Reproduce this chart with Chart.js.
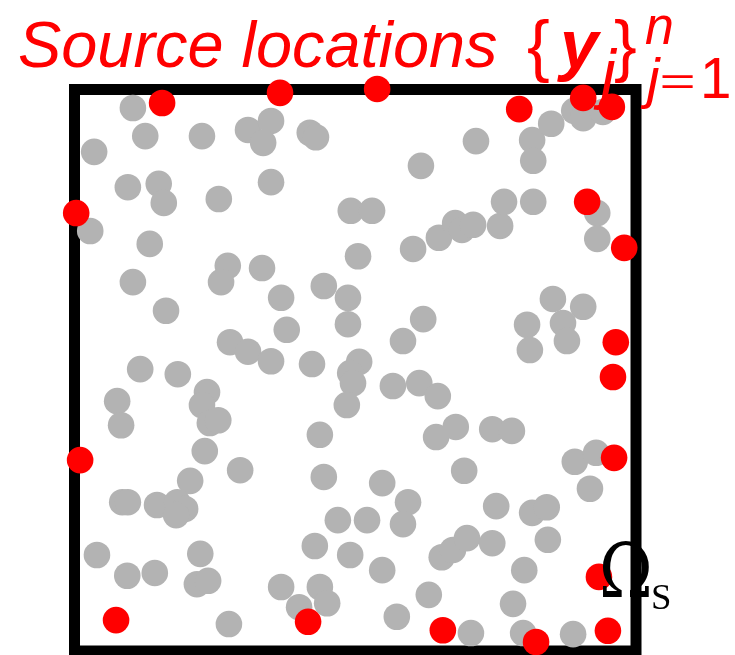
<!DOCTYPE html>
<html>
<head>
<meta charset="utf-8">
<script src="https://cdn.jsdelivr.net/npm/chart.js@4/dist/chart.umd.min.js"></script>
<style>
  html, body { margin: 0; padding: 0; background: #fff; }
  #wrap { width: 735px; height: 655px; position: relative; }
</style>
</head>
<body>
<div id="wrap"><canvas id="c" width="735" height="655"></canvas></div>
<script>
// Source locations y_j (red), on the unit square
const sourceX = [0.156, 0.366, 0.539, 0.792, 0.906, 0.957, 0.003, 0.913, 0.979, 0.964,
                 0.959, 0.010, 0.961, 0.934, 0.074, 0.416, 0.656, 0.822, 0.950];
const sourceY = [0.976, 0.994, 1.001, 0.965, 0.985, 0.969, 0.780, 0.800, 0.718, 0.550,
                 0.488, 0.340, 0.344, 0.132, 0.055, 0.052, 0.037, 0.016, 0.036];

// Sample points inside the domain (grey)
const sampleX = [
  0.104, 0.126, 0.227, 0.309, 0.350, 0.336, 0.419, 0.430, 0.035, 0.095,
  0.150, 0.159, 0.257, 0.350, 0.028, 0.134, 0.492, 0.530, 0.617, 0.715,
  0.815, 0.817, 0.849, 0.890, 0.906, 0.941, 0.505, 0.603, 0.649, 0.678,
  0.690, 0.710, 0.758, 0.765, 0.817, 0.931, 0.931, 0.273, 0.261, 0.334,
  0.104, 0.163, 0.368, 0.444, 0.487, 0.487, 0.378, 0.277, 0.309, 0.350,
  0.423, 0.117, 0.184, 0.076, 0.083, 0.236, 0.227, 0.241, 0.256, 0.437,
  0.232, 0.295, 0.621, 0.585, 0.507, 0.491, 0.496, 0.485, 0.567, 0.614,
  0.647, 0.852, 0.906, 0.806, 0.870, 0.877, 0.811, 0.644, 0.679, 0.744,
  0.779, 0.694, 0.891, 0.929, 0.206, 0.444, 0.085, 0.095, 0.147, 0.183,
  0.197, 0.181, 0.469, 0.040, 0.428, 0.224, 0.094, 0.143, 0.218, 0.238,
  0.368, 0.437, 0.400, 0.450, 0.275, 0.548, 0.594, 0.585, 0.521, 0.918,
  0.751, 0.815, 0.841, 0.491, 0.548, 0.654, 0.674, 0.699, 0.744, 0.843,
  0.801, 0.631, 0.781, 0.574, 0.706, 0.799, 0.888
];
const sampleY = [
  0.967, 0.917, 0.917, 0.928, 0.944, 0.905, 0.923, 0.915, 0.889, 0.826,
  0.832, 0.798, 0.805, 0.835, 0.748, 0.725, 0.784, 0.784, 0.864, 0.908,
  0.910, 0.873, 0.939, 0.962, 0.949, 0.960, 0.703, 0.716, 0.736, 0.762,
  0.750, 0.759, 0.757, 0.800, 0.800, 0.780, 0.734, 0.686, 0.657, 0.682,
  0.657, 0.606, 0.629, 0.650, 0.629, 0.582, 0.572, 0.550, 0.533, 0.516,
  0.511, 0.502, 0.493, 0.445, 0.402, 0.461, 0.438, 0.406, 0.411, 0.385,
  0.356, 0.322, 0.591, 0.552, 0.515, 0.495, 0.477, 0.438, 0.472, 0.477,
  0.454, 0.627, 0.613, 0.581, 0.584, 0.552, 0.536, 0.381, 0.399, 0.395,
  0.392, 0.321, 0.337, 0.353, 0.303, 0.310, 0.265, 0.265, 0.260, 0.265,
  0.253, 0.242, 0.233, 0.171, 0.187, 0.173, 0.134, 0.139, 0.119, 0.125,
  0.114, 0.114, 0.078, 0.085, 0.048, 0.299, 0.265, 0.226, 0.233, 0.289,
  0.258, 0.246, 0.256, 0.171, 0.144, 0.167, 0.180, 0.201, 0.192, 0.198,
  0.144, 0.100, 0.084, 0.061, 0.032, 0.032, 0.030
];

const toPoints = (xs, ys) => xs.map((x, i) => ({ x, y: ys[i] }));

// Place a piece of text so its ink fills the given left/top/bottom box
function fitText(ctx, str, style, family, left, top, bottom) {
  ctx.font = `${style} 100px ${family}`;
  let m = ctx.measureText(str);
  const h = m.actualBoundingBoxAscent + m.actualBoundingBoxDescent;
  const size = 100 * (bottom - top) / h;
  ctx.font = `${style} ${size.toFixed(2)}px ${family}`;
  m = ctx.measureText(str);
  ctx.fillText(str, left + m.actualBoundingBoxLeft, top + m.actualBoundingBoxAscent);
}

// Stretch a glyph into an exact ink box
function boxText(ctx, str, style, family, left, right, top, bottom) {
  ctx.font = `${style} 100px ${family}`;
  const m = ctx.measureText(str);
  const w = m.actualBoundingBoxLeft + m.actualBoundingBoxRight;
  const h = m.actualBoundingBoxAscent + m.actualBoundingBoxDescent;
  ctx.save();
  ctx.translate(left, top);
  ctx.scale((right - left) / w, (bottom - top) / h);
  ctx.fillText(str, m.actualBoundingBoxLeft, m.actualBoundingBoxAscent);
  ctx.restore();
}

const framePlugin = {
  id: 'domainFrame',
  beforeDatasetsDraw(chart) {
    const { ctx } = chart;
    const xs = chart.scales.x, ys = chart.scales.y;
    const l = xs.getPixelForValue(0), r = xs.getPixelForValue(1);
    const t = ys.getPixelForValue(1), b = ys.getPixelForValue(0);
    ctx.save();
    ctx.lineWidth = 11;
    ctx.strokeStyle = '#000';
    ctx.lineJoin = 'miter';
    ctx.strokeRect(l, t, r - l, b - t);
    ctx.restore();
  }
};

const labelPlugin = {
  id: 'labels',
  afterDraw(chart) {
    const { ctx } = chart;
    ctx.save();
    ctx.textBaseline = 'alphabetic';
    ctx.textAlign = 'left';
    const sans = '"Liberation Sans", Arial, sans-serif';
    ctx.fillStyle = '#ff0000';
    fitText(ctx, 'Source locations', 'italic', sans, 19, 20, 68);
    fitText(ctx, '{', 'normal', sans, 528, 19, 83);
    fitText(ctx, 'y', 'italic bold', sans, 557, 32, 83);
    fitText(ctx, 'j', 'italic', sans, 593, 48, 110);
    fitText(ctx, '}', 'normal', sans, 615, 19, 83);
    fitText(ctx, 'n', 'italic', sans, 645, 15, 43);
    fitText(ctx, 'j', 'italic', sans, 640, 57, 110);
    boxText(ctx, '=', 'normal', sans, 662, 693, 75, 88);
    fitText(ctx, '1', 'normal', sans, 704, 58, 97);

    ctx.fillStyle = '#000';
    const serif = '"DejaVu Serif", "Liberation Serif", serif';
    boxText(ctx, 'Ω', 'normal', serif, 603, 649, 542, 597);
    fitText(ctx, 'S', 'normal', '"Liberation Serif", serif', 653, 585, 610);
    ctx.restore();
  }
};

new Chart(document.getElementById('c'), {
  type: 'scatter',
  data: {
    datasets: [
      {
        label: 'sources',
        data: toPoints(sourceX, sourceY),
        backgroundColor: '#ff0000',
        borderWidth: 0,
        pointRadius: 13.3,
        pointHoverRadius: 13.3,
        clip: false,
        order: 0
      },
      {
        label: 'samples',
        data: toPoints(sampleX, sampleY),
        backgroundColor: '#b3b3b3',
        borderWidth: 0,
        pointRadius: 13.3,
        pointHoverRadius: 13.3,
        clip: false,
        order: 1
      }
    ]
  },
  options: {
    responsive: false,
    animation: false,
    events: [],
    layout: {
      autoPadding: false,
      padding: { left: 74.5, right: 99, top: 89.5, bottom: 4 }
    },
    scales: {
      x: { type: 'linear', min: 0, max: 1, display: false },
      y: { type: 'linear', min: 0, max: 1, display: false }
    },
    plugins: {
      legend: { display: false },
      tooltip: { enabled: false },
      title: { display: false }
    }
  },
  plugins: [framePlugin, labelPlugin]
});
</script>
</body>
</html>
